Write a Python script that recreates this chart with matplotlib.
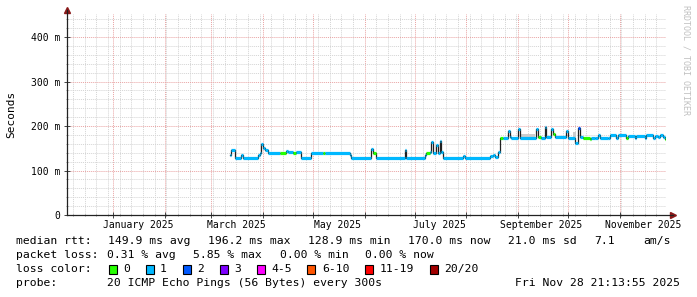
import matplotlib
matplotlib.use('Agg')
import matplotlib.pyplot as plt
import matplotlib.dates as mdates
from matplotlib.patches import Rectangle
from datetime import datetime

# median rtt (ms), step changes, and loss color index of each step
med_dates = ["2025-03-12", "2025-03-13", "2025-03-15", "2025-03-19", "2025-03-20",
             "2025-03-29", "2025-03-30", "2025-03-31", "2025-04-01", "2025-04-02",
             "2025-04-04", "2025-04-11", "2025-04-15", "2025-04-16", "2025-04-19",
             "2025-04-21", "2025-04-24", "2025-04-30", "2025-05-07", "2025-05-08",
             "2025-05-23", "2025-05-24", "2025-06-05", "2025-06-06", "2025-06-08",
             "2025-06-25", "2025-06-26", "2025-07-07", "2025-07-08", "2025-07-10",
             "2025-07-11", "2025-07-12", "2025-07-14", "2025-07-15", "2025-07-16",
             "2025-07-17", "2025-07-18", "2025-07-30", "2025-07-31", "2025-08-15",
             "2025-08-17", "2025-08-18", "2025-08-20", "2025-08-21", "2025-08-23",
             "2025-08-26", "2025-08-27", "2025-08-28", "2025-09-01", "2025-09-02",
             "2025-09-12", "2025-09-13", "2025-09-15", "2025-09-17", "2025-09-18",
             "2025-09-21", "2025-09-22", "2025-09-23", "2025-09-30", "2025-10-01",
             "2025-10-05", "2025-10-07", "2025-10-08", "2025-10-10", "2025-10-14",
             "2025-10-15", "2025-10-17", "2025-10-19", "2025-10-20", "2025-10-25",
             "2025-10-26", "2025-10-30", "2025-10-31", "2025-11-05", "2025-11-06",
             "2025-11-10", "2025-11-11", "2025-11-16", "2025-11-17", "2025-11-21",
             "2025-11-22", "2025-11-24", "2025-11-25", "2025-11-27", "2025-11-28"]
med_ms = [135, 146, 129, 135, 129,
          135, 139, 160, 150, 146,
          139, 139, 145, 142, 139,
          142, 129, 139, 139, 139,
          135, 129, 148, 139, 129,
          146, 129, 135, 139, 142,
          164, 139, 157, 139, 166,
          142, 129, 132, 129, 133,
          135, 130, 142, 174, 174,
          189, 176, 174, 193, 174,
          193, 176, 174, 198, 176,
          193, 182, 176, 189, 174,
          162, 196, 176, 174, 170,
          174, 174, 180, 174, 174,
          179, 174, 179, 174, 178,
          174, 178, 174, 179, 174,
          178, 175, 179, 176, 171]
med_loss = [1, 1, 1, 1, 1,
            1, 1, 1, 1, 1,
            1, 0, 1, 1, 0,
            1, 1, 1, 0, 1,
            1, 1, 1, 0, 1,
            1, 1, 1, 0, 1,
            1, 1, 1, 1, 1,
            1, 1, 1, 1, 1,
            1, 1, 1, 0, 1,
            1, 1, 1, 1, 1,
            1, 0, 1, 1, 1,
            1, 0, 1, 1, 1,
            1, 2, 1, 0, 0,
            1, 1, 1, 1, 1,
            1, 1, 1, 0, 1,
            1, 1, 1, 1, 1,
            1, 1, 1, 1, 0]
last_date = "2025-11-28 21:00"

# smoke (ping spread) patches: start, end, low, high
smoke_start = ["2025-09-03", "2025-10-04", "2025-03-16"]
smoke_end = ["2025-09-11", "2025-10-06", "2025-03-18"]
smoke_lo = [174, 176, 125]
smoke_hi = [182, 186, 129]

loss_labels = ["0", "1", "2", "3", "4-5", "6-10", "11-19", "20/20"]
loss_colors = ["#26ff00", "#00b8ff", "#0059ff", "#7e00ff",
               "#ff00ff", "#ff5500", "#ff0000", "#a10000"]

month_labels = ["January 2025", "March 2025", "May 2025",
                "July 2025", "September 2025", "November 2025"]
month_label_dates = ["2025-01-16", "2025-03-16", "2025-05-16",
                     "2025-07-16", "2025-09-15", "2025-11-15"]

rtt_texts = ["149.9 ms avg", "196.2 ms max", "128.9 ms min", "170.0 ms now",
             "21.0 ms sd", "7.1", "am/s"]
loss_texts = ["0.31 % avg", "5.85 % max", "0.00 % min", "0.00 % now"]

x_start = datetime(2024, 12, 4, 12, 0)
x_end = datetime(2025, 11, 28, 21, 13, 55)

W, H = 697, 297
plt.rcParams['font.family'] = 'DejaVu Sans Mono'

fig = plt.figure(figsize=(W / 100, H / 100), dpi=100)
fig.patch.set_facecolor('white')
ax = fig.add_axes([67 / W, (H - 215) / H, (666 - 67) / W, (215 - 14) / H])
ax.set_facecolor('white')

def num(s):
    return mdates.date2num(datetime.fromisoformat(s))

t = [num(d) for d in med_dates] + [num(last_date)]
v = med_ms + [med_ms[-1]]

# grid
ax.set_xlim(x_start, x_end)
ax.set_ylim(0, 452)
ax.xaxis.set_major_locator(mdates.MonthLocator())
ax.xaxis.set_minor_locator(mdates.WeekdayLocator(byweekday=mdates.SU))
ax.yaxis.set_minor_locator(plt.MultipleLocator(20))
ax.grid(which='minor', color='#d4d4d4', linestyle=(0, (1, 1)), linewidth=0.7)
ax.grid(which='major', color='#e9a3a3', linestyle=(0, (1, 1)), linewidth=0.7)
ax.set_axisbelow(True)

for s0, s1, lo, hi in zip(smoke_start, smoke_end, smoke_lo, smoke_hi):
    ax.fill_between([num(s0), num(s1)], lo, hi, color='#cccccc', lw=0, zorder=2)

ax.step(t, v, where='post', color='#202020', lw=0.9, zorder=3)
for i in range(len(med_ms)):
    ax.hlines(med_ms[i], t[i], t[i + 1], color=loss_colors[med_loss[i]],
              lw=2.3, zorder=4, capstyle='butt')

for s in ax.spines.values():
    s.set_visible(False)
ax.plot([0, 0], [0, 1.02], transform=ax.transAxes, color='#222222', lw=0.9, clip_on=False, zorder=5)
ax.plot([0, 1.012], [0, 0], transform=ax.transAxes, color='#222222', lw=0.9, clip_on=False, zorder=5)
ax.plot([0], [1.02], marker='^', ms=4, color='#8b1a1a', transform=ax.transAxes, clip_on=False)
ax.plot([1.012], [0], marker='>', ms=4, color='#8b1a1a', transform=ax.transAxes, clip_on=False)

ax.set_yticks([0, 100, 200, 300, 400])
ax.set_yticklabels(["0", "100 m", "200 m", "300 m", "400 m"])
ax.set_xticklabels([])
ax.tick_params(axis='y', which='major', direction='inout', length=4, width=0.7,
               color='#444444', labelsize=7, pad=3)
ax.tick_params(axis='y', which='minor', direction='inout', length=2, width=0.6, color='#888888')
ax.tick_params(axis='x', which='major', direction='inout', length=4, width=0.7, color='#444444')
ax.tick_params(axis='x', which='minor', direction='inout', length=2, width=0.6, color='#888888')

for lab, d in zip(month_labels, month_label_dates):
    ax.text(num(d), -10 * 452 / 201, lab, ha='center', va='center', fontsize=7, clip_on=False)

fig.text(11 / W, 1 - 114 / H, "Seconds", rotation=90, ha='center', va='center', fontsize=8)
fig.text(686 / W, 1 - 60 / H, "RRDTOOL / TOBI OETIKER", rotation=270, ha='center',
         va='center', fontsize=6, color='#c0c0c0')

fs = 8.2
def row(px, py, s, **kw):
    fig.text(px / W, 1 - py / H, s, fontsize=fs, va='center', **kw)

row(16, 241, "median rtt:")
for px, s in zip([108, 208, 308, 408, 508, 594, 643], rtt_texts):
    row(px, 241, s)
row(16, 255, "packet loss:")
for px, s in zip([107, 193, 280, 365], loss_texts):
    row(px, 255, s)
row(16, 269, "loss color:")
bx = 108.5
for lab, c in zip(loss_labels, loss_colors):
    fig.patches.append(Rectangle((bx / W, 1 - 273.5 / H), 8 / W, 9 / H, transform=fig.transFigure,
                                 facecolor=c, edgecolor='black', lw=0.8))
    row(bx + 14.5, 269, lab)
    bx += 37 + (len(lab) - 1) * 6.9
row(16, 283, "probe:")
row(107, 283, "20 ICMP Echo Pings (56 Bytes) every 300s")
row(680, 283, "Fri Nov 28 21:13:55 2025", ha='right')

fig.savefig('out.png', dpi=100)
